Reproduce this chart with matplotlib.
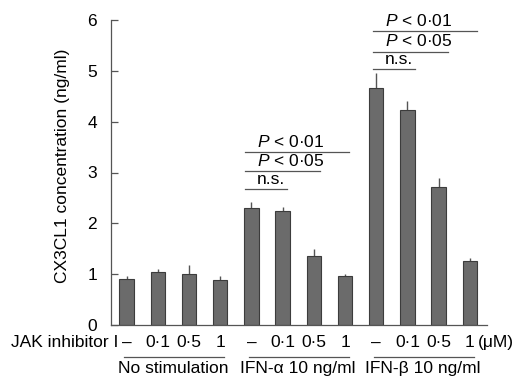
import matplotlib
matplotlib.use("Agg")
import matplotlib.pyplot as plt
import numpy as np

plt.rcParams['font.family'] = ['Liberation Sans', 'DejaVu Sans']
plt.rcParams['mathtext.fontset'] = 'custom'
plt.rcParams['mathtext.it'] = 'Liberation Sans:italic'
plt.rcParams['mathtext.rm'] = 'Liberation Sans'

# ---- data ----
dose_labels = ['–', '0·1', '0·5', '1'] * 3
groups = ['No stimulation', 'IFN-α 10 ng/ml', 'IFN-β 10 ng/ml']
values = [0.90, 1.05, 1.00, 0.88,
          2.30, 2.25, 1.35, 0.97,
          4.66, 4.22, 2.71, 1.26]
errors = [0.07, 0.05, 0.18, 0.09,
          0.11, 0.07, 0.14, 0.03,
          0.29, 0.18, 0.18, 0.05]
sig_labels = ['$P$ < 0·01', '$P$ < 0·05', 'n.s.']
sig_levels_a = [3.41, 3.02, 2.67]
sig_levels_b = [5.79, 5.38, 5.04]

fs = 12.5
gray = '#555555'

fig = plt.figure(figsize=(5.18, 3.83), dpi=100)
ax = fig.add_axes([111/518, 1-325/383, (487-111)/518, (325-20)/383])

x = np.arange(len(values))
ax.bar(x, values, width=0.46, color='#6b6b6b', edgecolor='#3c3c3c', linewidth=0.8, zorder=2)
ax.errorbar(x, values, yerr=[np.zeros(len(errors)), errors], fmt='none',
            ecolor='#555555', elinewidth=1.0, capsize=0, zorder=1)

ax.set_xlim(-0.5, 11.55)
ax.set_ylim(0, 6)
ax.set_yticks(range(7))
ax.tick_params(axis='y', direction='in', length=5, width=0.9, color=gray,
               labelsize=fs, pad=10)
ax.set_xticks([])
for s in ['top', 'right']:
    ax.spines[s].set_visible(False)
for s in ['left', 'bottom']:
    ax.spines[s].set_color(gray)
    ax.spines[s].set_linewidth(0.9)
ax.set_ylabel('CX3CL1 concentration (ng/ml)', fontsize=fs, va='center')
ax.yaxis.set_label_coords(-0.130, 0.523)

tr = ax.get_xaxis_transform()
# dose labels
for i, lab in enumerate(dose_labels):
    ax.text(x[i], -0.059, lab, transform=tr, ha='center', va='center', fontsize=fs)
ax.text(-0.27, -0.059, 'JAK inhibitor I', transform=tr, ha='right', va='center', fontsize=fs)
ax.text(11.25, -0.059, '(μM)', transform=tr, ha='left', va='center', fontsize=fs)

# group lines and labels
for g, name in enumerate(groups):
    x0, x1 = 4*g - 0.08, 4*g + 3.12
    ax.plot([x0, x1], [-0.104, -0.104], transform=tr, color=gray, lw=0.9, clip_on=False)
    ax.text((4*g + 4*g + 3)/2, -0.143, name, transform=tr, ha='center', va='center', fontsize=fs)

# significance annotations
ends_a = [7.13, 6.2, 5.13]
ends_b = [11.22, 10.3, 9.25]
for lab, ya, ea, yb, eb in zip(sig_labels, sig_levels_a, ends_a, sig_levels_b, ends_b):
    ax.plot([3.8, ea], [ya, ya], color=gray, lw=0.9)
    ax.text(4.17, ya + 0.04, lab, ha='left', va='bottom', fontsize=fs)
    ax.plot([7.9, eb], [yb, yb], color=gray, lw=0.9)
    ax.text(8.29, yb + 0.04, lab, ha='left', va='bottom', fontsize=fs)

fig.savefig('out.png', dpi=100)
